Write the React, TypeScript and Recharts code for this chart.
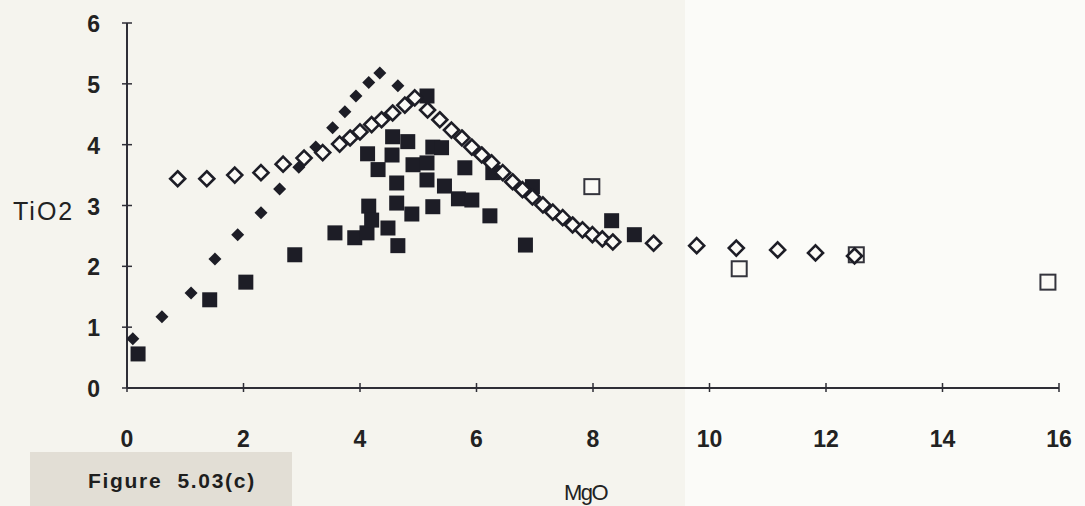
import { ScatterChart, Scatter, XAxis, YAxis } from 'recharts'

const INK = '#1d1d26'
const AXIS = '#2e2e36'
const PAPER = '#f5f4ee'

const mgoTicks = [0, 2, 4, 6, 8, 10, 12, 14, 16]
const tio2Ticks = [0, 1, 2, 3, 4, 5, 6]

// filled diamonds
const fdMgO = [0.1, 0.6, 1.1, 1.51, 1.9, 2.3, 2.62, 2.95, 3.24, 3.53, 3.74, 3.93, 4.15, 4.34, 4.65]
const fdTiO2 = [0.81, 1.17, 1.56, 2.12, 2.52, 2.88, 3.27, 3.63, 3.96, 4.28, 4.54, 4.8, 5.02, 5.18, 4.97]

// open diamonds (model curve)
const odMgO = [
  0.87, 1.37, 1.85, 2.3, 2.68, 3.04, 3.36, 3.65, 3.83, 4.0, 4.2, 4.37, 4.56, 4.77, 4.94,
  5.16, 5.37, 5.57, 5.75, 5.92, 6.09, 6.26, 6.45, 6.62, 6.79, 6.96, 7.14, 7.31, 7.48, 7.65,
  7.82, 7.99, 8.16, 8.34, 9.04, 9.78, 10.46, 11.17, 11.82, 12.49,
]
const odTiO2 = [
  3.44, 3.44, 3.5, 3.54, 3.68, 3.78, 3.87, 4.01, 4.11, 4.21, 4.33, 4.41, 4.52, 4.65, 4.77,
  4.57, 4.41, 4.24, 4.11, 3.96, 3.83, 3.7, 3.54, 3.39, 3.26, 3.14, 3.01, 2.89, 2.8, 2.68,
  2.6, 2.52, 2.45, 2.4, 2.38, 2.34, 2.3, 2.27, 2.22, 2.17,
]

// filled squares
const fsMgO = [
  0.19, 1.42, 2.04, 2.88, 3.57, 3.91, 4.12, 4.15, 4.2, 4.48, 4.63, 4.65, 4.89, 5.25, 4.13,
  4.31, 4.56, 4.55, 4.82, 4.91, 4.63, 5.15, 5.15, 5.25, 5.45, 5.15, 5.4, 5.8, 5.69, 5.92,
  6.23, 6.84, 6.96, 6.28, 8.32, 8.71,
]
const fsTiO2 = [
  0.56, 1.45, 1.74, 2.19, 2.55, 2.47, 2.55, 2.99, 2.76, 2.63, 3.04, 2.34, 2.86, 2.98, 3.85,
  3.59, 4.13, 3.83, 4.05, 3.67, 3.37, 3.7, 3.42, 3.96, 3.32, 4.8, 3.95, 3.62, 3.11, 3.09,
  2.83, 2.35, 3.31, 3.54, 2.75, 2.52,
]

// open squares
const osMgO = [7.98, 10.51, 12.52, 15.81]
const osTiO2 = [3.31, 1.96, 2.19, 1.74]

const zip = (xs: number[], ys: number[]) => xs.map((x, i) => ({ mgo: x, tio2: ys[i] }))

const filledDiamonds = zip(fdMgO, fdTiO2)
const openDiamonds = zip(odMgO, odTiO2)
const filledSquares = zip(fsMgO, fsTiO2)
const openSquares = zip(osMgO, osTiO2)

const diamond = (cx: number, cy: number, r: number) =>
  `M${cx},${cy - r}L${cx + r},${cy}L${cx},${cy + r}L${cx - r},${cy}Z`

function FilledDiamond(p: any) {
  return <path d={diamond(p.cx, p.cy, 6.5)} fill={INK} />
}
function OpenDiamond(p: any) {
  return <path d={diamond(p.cx, p.cy, 7.5)} fill="#fbfaf6" stroke={INK} strokeWidth={2.6} />
}
function FilledSquare(p: any) {
  return <rect x={p.cx - 7.5} y={p.cy - 7.5} width={15} height={15} fill={INK} />
}
function OpenSquare(p: any) {
  return <rect x={p.cx - 7.5} y={p.cy - 7.5} width={15} height={15} fill="#fbfaf6" stroke="#34343c" strokeWidth={2} />
}

const tickFont = { fontFamily: 'Liberation Sans, Arial, sans-serif', fontWeight: 700, fontSize: 23, fill: '#222' }

function XTick(p: any) {
  return (
    <g>
      <line x1={p.x} x2={p.x} y1={p.y - 5} y2={p.y + 4} stroke={AXIS} strokeWidth={1.5} />
      <text x={p.x} y={p.y + 51} textAnchor="middle" dominantBaseline="central" {...tickFont}>
        {p.payload.value}
      </text>
    </g>
  )
}
function YTick(p: any) {
  return (
    <g>
      <line x1={p.x - 5} x2={p.x + 5} y1={p.y} y2={p.y} stroke={AXIS} strokeWidth={1.5} />
      <text x={p.x - 27} y={p.y + 1} textAnchor="end" dominantBaseline="central" {...tickFont}>
        {p.payload.value}
      </text>
    </g>
  )
}

export default function App() {
  return (
    <div style={{ position: 'absolute', left: 0, top: 0, width: 1085, height: 506, overflow: 'hidden', background: PAPER }}>
      <div style={{ position: 'absolute', left: 685, top: 0, width: 400, height: 506, background: '#fbfbf8' }} />
      <div style={{ position: 'absolute', left: 30, top: 452, width: 262, height: 54, background: '#e2ded5' }} />
      <ScatterChart width={1085} height={506} margin={{ top: 23, right: 26, bottom: 0, left: 0 }} style={{ position: 'absolute', left: 0, top: 0 }}>
        <XAxis
          type="number"
          dataKey="mgo"
          domain={[0, 16]}
          ticks={mgoTicks}
          height={118}
          tickSize={0}
          tickMargin={0}
          tick={<XTick />}
          axisLine={{ stroke: AXIS, strokeWidth: 2 }}
          allowDataOverflow
        />
        <YAxis
          type="number"
          dataKey="tio2"
          domain={[0, 6]}
          ticks={tio2Ticks}
          width={127}
          tickSize={0}
          tickMargin={0}
          tick={<YTick />}
          axisLine={{ stroke: AXIS, strokeWidth: 2 }}
          allowDataOverflow
        />
        <Scatter data={filledSquares} shape={<FilledSquare />} isAnimationActive={false} />
        <Scatter data={openSquares} shape={<OpenSquare />} isAnimationActive={false} />
        <Scatter data={filledDiamonds} shape={<FilledDiamond />} isAnimationActive={false} />
        <Scatter data={openDiamonds} shape={<OpenDiamond />} isAnimationActive={false} />
      </ScatterChart>
      <div style={{ position: 'absolute', left: 13, top: 196, fontFamily: 'Liberation Sans, Arial, sans-serif', fontSize: 25, letterSpacing: 2, color: '#222', lineHeight: '30px' }}>
        TiO2
      </div>
      <div style={{ position: 'absolute', left: 88, top: 467, fontFamily: 'Liberation Sans, Arial, sans-serif', fontWeight: 700, fontSize: 21, letterSpacing: 1.7, color: '#1e1e1e', whiteSpace: 'pre', lineHeight: '28px' }}>
        {'Figure  5.03(c)'}
      </div>
      <div style={{ position: 'absolute', left: 564, top: 479, fontFamily: 'Liberation Sans Narrow, Liberation Sans, Arial, sans-serif', fontSize: 22, letterSpacing: -1.5, color: '#222', lineHeight: '28px' }}>
        MgO
      </div>
    </div>
  )
}
